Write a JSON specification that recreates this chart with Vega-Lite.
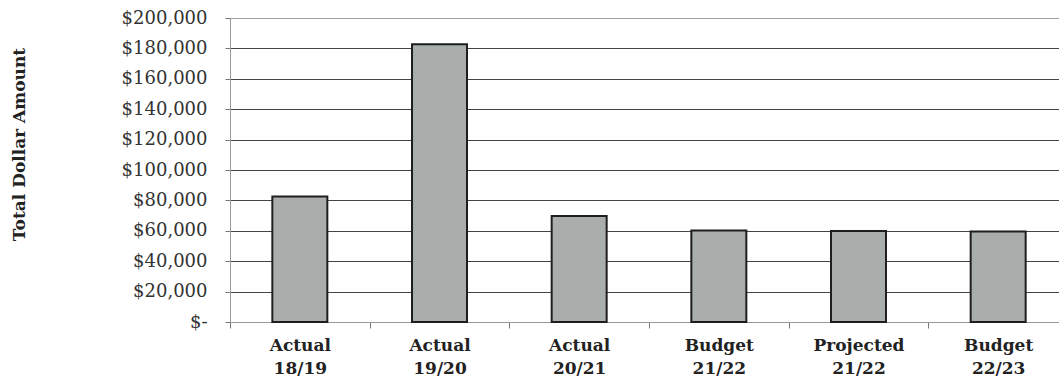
{
  "$schema": "https://vega.github.io/schema/vega-lite/v6.json",
  "autosize": {"type": "none"},
  "padding": {"left": 230, "top": 18, "right": 0, "bottom": 59},
  "width": 838,
  "height": 304,
  "background": "white",
  "data": {
    "values": [
      {"period": "Actual 18/19", "amount": 82500},
      {"period": "Actual 19/20", "amount": 182800},
      {"period": "Actual 20/21", "amount": 69800},
      {"period": "Budget 21/22", "amount": 60200},
      {"period": "Projected 21/22", "amount": 59800},
      {"period": "Budget 22/23", "amount": 59500}
    ]
  },
  "config": {
    "view": {"stroke": null},
    "axis": {"labelFont": "DejaVu Serif", "titleFont": "DejaVu Serif"}
  },
  "mark": {"type": "bar", "size": 55, "fill": "#a9adac", "stroke": "#1e1e1e", "strokeWidth": 2},
  "encoding": {
    "x": {
      "field": "period",
      "type": "nominal",
      "sort": null,
      "title": null,
      "scale": {"paddingInner": 0, "paddingOuter": 0},
      "axis": {
        "labelAngle": 0,
        "labelExpr": "split(datum.label, ' ')",
        "labelFontWeight": "bold",
        "labelFontSize": 17,
        "labelColor": "#222",
        "labelLineHeight": 23,
        "labelPadding": 9,
        "tickBand": "extent",
        "tickSize": 6,
        "tickColor": "#777",
        "domainColor": "#999",
        "labelBaseline": "top"
      }
    },
    "y": {
      "field": "amount",
      "type": "quantitative",
      "scale": {"domain": [0, 200000], "nice": false},
      "title": "Total Dollar Amount",
      "axis": {
        "values": [0, 20000, 40000, 60000, 80000, 100000, 120000, 140000, 160000, 180000, 200000],
        "labelExpr": "datum.value == 0 ? '$-' : '$' + format(datum.value, ',')",
        "labelFontSize": 18,
        "labelColor": "#333",
        "labelPadding": 18,
        "tickSize": 5,
        "tickColor": "#777",
        "domainColor": "#999",
        "grid": true,
        "gridColor": "#444",
        "gridWidth": 1,
        "gridDash": {"condition": {"test": "datum.value == 200000", "value": [1, 1]}, "value": []},
        "titleFontSize": 17,
        "titleFontWeight": "bold",
        "titleColor": "#222",
        "titleX": -211,
        "titleY": 126,
        "titleAngle": -90,
        "titleAlign": "center",
        "titleBaseline": "middle"
      }
    }
  }
}
